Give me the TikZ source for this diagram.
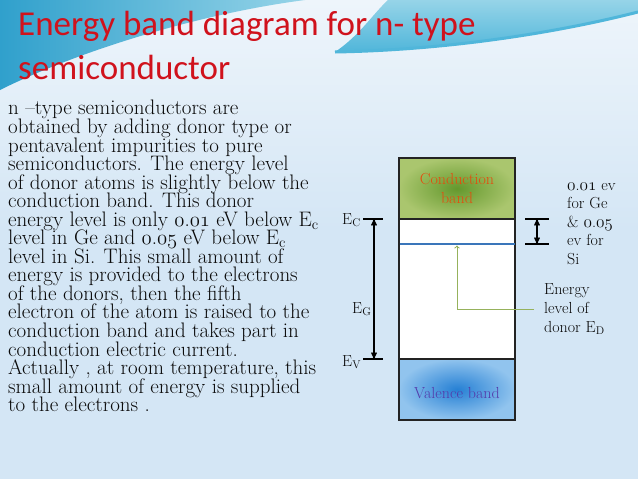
\documentclass[tikz,border=0pt]{standalone}
\usepackage{fontspec}
\newfontfamily\titlefont{Carlito}
\usetikzlibrary{shapes,arrows,positioning}

\definecolor{titlered}{RGB}{208,18,28}
\definecolor{bgblue}{RGB}{212,230,245}
\definecolor{bglight}{RGB}{238,245,251}
\definecolor{tealdark}{RGB}{48,160,204}
\definecolor{tealmid}{RGB}{80,182,218}
\definecolor{teallight}{RGB}{150,212,232}
\definecolor{boxline}{RGB}{35,35,35}
\definecolor{cbgreen}{RGB}{170,198,110}
\definecolor{cbgreendark}{RGB}{100,152,45}
\definecolor{cbtext}{RGB}{228,76,14}
\definecolor{vbblue}{RGB}{145,196,238}
\definecolor{vbbluedark}{RGB}{38,128,212}
\definecolor{vbtext}{RGB}{84,58,170}
\definecolor{donorblue}{RGB}{58,118,186}
\definecolor{pointgreen}{RGB}{150,178,92}
\definecolor{textgray}{RGB}{10,10,10}

% old style figures
\newcommand{\osf}[1]{{\usefont{OML}{cmm}{m}{it}#1}}
% fixed line distance
\newcommand{\tightlines}{\lineskiplimit-20pt\relax}

\begin{document}
\begin{tikzpicture}[x=1pt, y=-1pt,
    band/.style={rectangle, draw=boxline, line width=1.1pt, minimum width=116pt, inner sep=0pt},
    bandtext/.style={font=\fontsize{16}{19}\selectfont, align=center, anchor=base, inner sep=0pt},
    sidetext/.style={font=\fontsize{16}{18.5}\selectfont\tightlines, align=left, anchor=base west, inner sep=0pt, text=textgray},
    levelmark/.style={line width=1.3pt, black},
    gaparrow/.style={<->, >=stealth', line width=1.3pt, black}]
    \useasboundingbox (0,0) rectangle (638,479);

    % Background
    \fill[bgblue] (0,0) rectangle (638,479);
    \shade[top color=bglight, bottom color=bgblue] (0,0) rectangle (638,230);
    \shade[left color=tealdark, right color=teallight] (0,0) -- (0,90) .. controls (70,55) and (190,15) .. (305,0) -- cycle;
    \shade[top color=teallight, bottom color=tealmid] (335,52) .. controls (360,35) and (372,15) .. (388,0) -- (638,0) -- (638,12) .. controls (560,32) and (450,50) .. (335,52) -- cycle;
    \draw[tealmid, line width=3pt] (335,52) .. controls (450,50) and (560,32) .. (638,12);

    % Title and text (base = last line)
    \node[font=\titlefont\fontsize{35}{44}\selectfont, text=titlered, align=left, anchor=base west, inner sep=0pt] (title) at (18,79) {Energy band diagram for n- type\\semiconductor};
    \node[font=\fontsize{21}{18.55}\selectfont\tightlines, text=textgray, align=left, anchor=base west, inner sep=0pt] (body) at (8,411.7) {n --type semiconductors are\\
        obtained by adding donor type or\\
        pentavalent impurities to pure\\
        semiconductors. The energy level\\
        of donor atoms is slightly below the\\
        conduction band. This donor\\
        energy level is only \osf{0}.\osf{01} eV below E$_{\mathrm{c}}$\\
        level in Ge and \osf{0}.\osf{05} eV below E$_{\mathrm{c}}$\\
        level in Si. This small amount of\\
        energy is provided to the electrons\\
        of the donors, then the fifth\\
        electron of the atom is raised to the\\
        conduction band and takes part in\\
        conduction electric current.\\
        Actually , at room temperature, this\\
        small amount of energy is supplied\\
        to the electrons .};

    % Bands
    \node[band, minimum height=61pt, inner color=cbgreendark, outer color=cbgreen] (cb) at (457,188.5) {};
    \node[band, minimum height=140pt, fill=white] (gap) at (457,289) {};
    \node[band, minimum height=61pt, inner color=vbbluedark, outer color=vbblue] (vb) at (457,389.5) {};
    \node[bandtext, text=cbtext] (cblabel) at (457,203) {Conduction\\band};
    \node[bandtext, text=vbtext] (vblabel) at (457,398) {Valence band};

    % Donor level
    \coordinate (donorL) at (399.5,244);
    \coordinate (donorR) at (514.5,244);
    \draw[donorblue, line width=1.5pt] (donorL) -- (donorR);

    % Energy gap
    \coordinate (ecL) at (363,219);
    \coordinate (ecR) at (383,219);
    \coordinate (evL) at (363,359);
    \coordinate (evR) at (383,359);
    \coordinate (ecA) at (374,219);
    \coordinate (evA) at (374,359);
    \draw[levelmark] (ecL) -- (ecR);
    \draw[levelmark] (evL) -- (evR);
    \draw[gaparrow] (ecA) -- (evA);
    \node[sidetext] (ec) at (342,224) {E$_{\mathrm{C}}$};
    \node[sidetext] (eg) at (352,313) {E$_{\mathrm{G}}$};
    \node[sidetext] (ev) at (342,366) {E$_{\mathrm{V}}$};

    % Donor gap
    \coordinate (dtopL) at (525,219);
    \coordinate (dtopR) at (549,219);
    \coordinate (dbotL) at (525,244);
    \coordinate (dbotR) at (549,244);
    \coordinate (dtopA) at (537,219);
    \coordinate (dbotA) at (537,244);
    \draw[levelmark] (dtopL) -- (dtopR);
    \draw[levelmark] (dbotL) -- (dbotR);
    \draw[gaparrow] (dtopA) -- (dbotA);
    \node[sidetext] (dvalue) at (567,264) {\osf{0}.\osf{01} ev\\for Ge\\\& \osf{0}.\osf{05}\\ev for\\Si};

    % Pointer
    \node[sidetext, font=\fontsize{16}{19}\selectfont\tightlines] (dname) at (544,332) {Energy\\level of\\donor E$_{\mathrm{D}}$};
    \coordinate (ptr) at (534,309);
    \coordinate (ptrtip) at (457,245.5);
    \draw[pointgreen, line width=1pt, -to] (ptr) -| (ptrtip);
\end{tikzpicture}
\end{document}
